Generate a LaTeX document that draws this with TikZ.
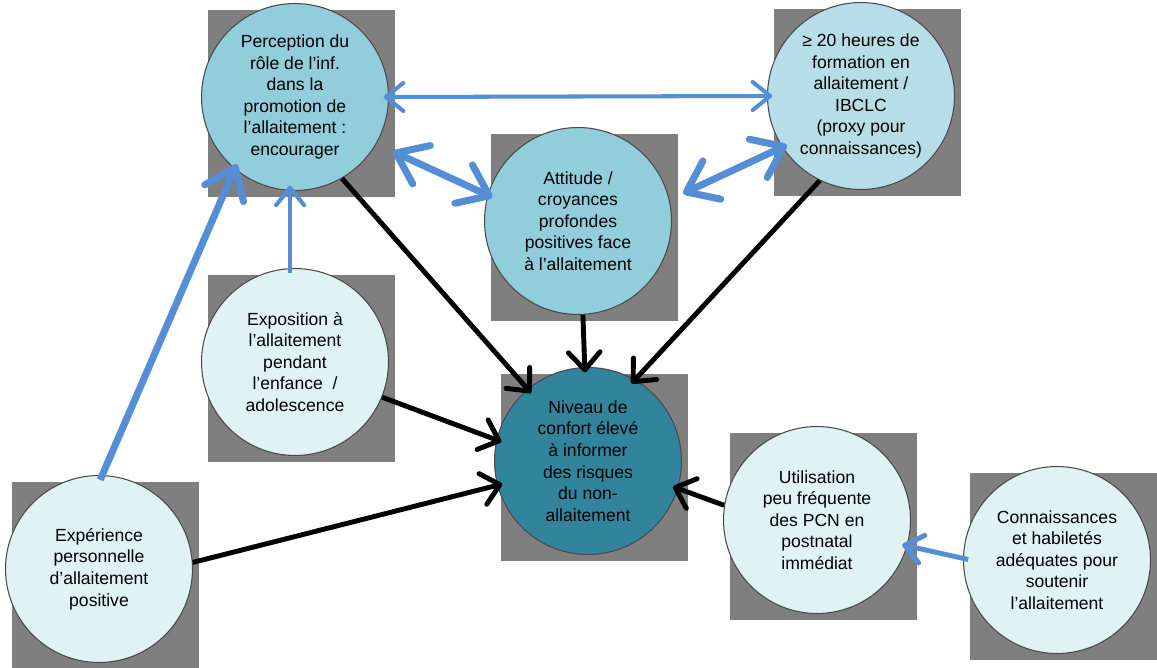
\documentclass[tikz,border=0pt]{standalone}
\usepackage{fontspec}
\setmainfont{Liberation Sans}
\usetikzlibrary{arrows.meta,calc,backgrounds}

\definecolor{boxgray}{HTML}{7F7F7F}
\definecolor{rimgray}{HTML}{4A4A4A}
\definecolor{palecyan}{HTML}{E1F2F3}
\definecolor{midcyan}{HTML}{92CDDC}
\definecolor{softcyan}{HTML}{B7DEE8}
\definecolor{deepteal}{HTML}{31849B}
\definecolor{linkblue}{HTML}{558ED5}

\tikzset{
  bubble/.style={circle, draw=rimgray, line width=0.6pt, minimum size=3.74cm,
    inner sep=0pt, align=center, font=\fontsize{10}{12.3}\selectfont},
  backbox/.style={fill=boxgray},
  link/.style={line width=2.8pt, shorten >=-3pt,
    >={Straight Barb[length=10pt,width=18pt,round]}},
  bluelink/.style={draw=linkblue, line width=2.3pt, shorten >=-3pt, shorten <=-3pt,
    >={Straight Barb[length=10pt,width=16pt,round]}},
  bluebold/.style={draw=linkblue, line width=4pt, shorten >=-3pt, shorten <=-3pt,
    >={Straight Barb[length=16pt,width=24pt,round]}},
}

\begin{document}
\begin{tikzpicture}[x=0.02cm,y=-0.02cm]
  \useasboundingbox (0,0) rectangle (1157,668);

  % les cercles
  \node[bubble, fill=midcyan] (perc) at (295,97)
    {Perception du\\rôle de l’inf.\\dans la\\promotion de\\l’allaitement :\\encourager};
  \node[bubble, fill=softcyan] (hrs) at (861,96)
    {≥ 20 heures de\\formation en\\allaitement /\\IBCLC\\(proxy pour\\connaissances)};
  \node[bubble, fill=midcyan] (att) at (578,221)
    {Attitude /\\croyances\\profondes\\positives face\\à l’allaitement};
  \node[bubble, fill=palecyan] (expo) at (295,362)
    {Exposition à\\l’allaitement\\pendant\\l’enfance~~/\\adolescence};
  \node[bubble, fill=deepteal] (niv) at (588,461)
    {Niveau de\\confort élevé\\à informer\\des risques\\du non-\\allaitement};
  \node[bubble, fill=palecyan] (exper) at (99,569)
    {Expérience\\personnelle\\d’allaitement\\positive};
  \node[bubble, fill=palecyan] (util) at (817,520)
    {Utilisation\\peu fréquente\\des PCN en\\postnatal\\immédiat};
  \node[bubble, fill=palecyan] (conn) at (1057,560)
    {Connaissances\\et habiletés\\adéquates pour\\soutenir\\l’allaitement};

  % carres gris derriere
  \begin{scope}[on background layer]
    \foreach \n in {perc,hrs,att,expo,niv,exper,util,conn}
      \fill[backbox] ($(\n)+(-87,-87)$) rectangle ($(\n)+(100,100)$);
  \end{scope}

  % fleches bleues
  \draw[bluebold,->] (exper.88) -- (perc.230);
  \draw[bluelink,->] (expo.93) -- (perc.267);
  \draw[bluelink,<->] (perc.0) -- (hrs.180);
  \draw[bluebold,<->,shorten <=0.36cm] (perc.-30) -- (att.164);
  \draw[bluebold,<->,shorten <=0.3cm] (att.13) -- (hrs.213);
  \draw[bluelink,->,line width=2.8pt] (conn.179) -- (util.-16);

  % fleches noires
  \draw[link,->] (perc.-60) -- (niv.130);
  \draw[link,->] (att.-87) -- (niv.92);
  \draw[link,->] (hrs.244) -- (niv.60);
  \draw[link,->] (expo.-22) -- (niv.167);
  \draw[link,->] (exper.4) -- (niv.195);
  \draw[link,->] (util.171) -- (niv.-17);
\end{tikzpicture}
\end{document}
